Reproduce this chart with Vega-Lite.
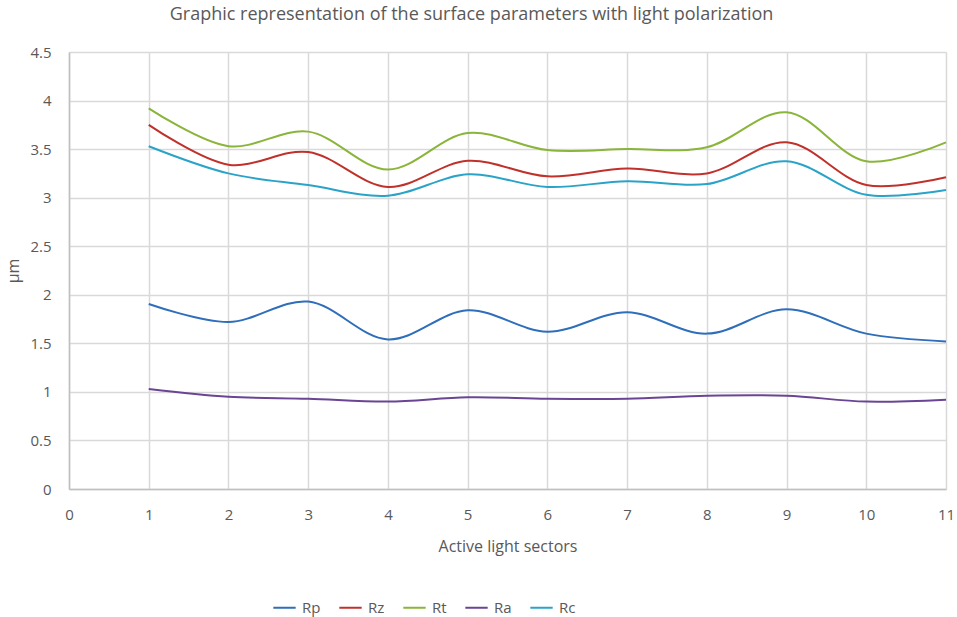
{
  "$schema": "https://vega.github.io/schema/vega-lite/v6.json",
  "description": "Surface parameters with light polarization per active light sector",
  "autosize": {"type": "none"},
  "padding": {"left": 69, "top": 52, "right": 11, "bottom": 128},
  "width": 877,
  "height": 437,
  "background": "white",
  "title": {
    "text": "Graphic representation of the surface parameters with light polarization",
    "anchor": "middle",
    "dx": -36,
    "offset": 21,
    "fontSize": 18,
    "fontWeight": "normal",
    "color": "#595959",
    "font": "Open Sans"
  },
  "config": {
    "view": {"stroke": null},
    "font": "Open Sans",
    "axis": {
      "labelFont": "Open Sans",
      "titleFont": "Open Sans",
      "labelFontSize": 15,
      "titleFontSize": 16,
      "labelColor": "#595959",
      "titleColor": "#595959",
      "titleFontWeight": "normal",
      "gridColor": "#D9D9D9",
      "gridWidth": 1.5,
      "domainColor": "#BFBFBF",
      "domainWidth": 1.5,
      "ticks": false
    }
  },
  "data": {
    "values": [
      {"sector": 1, "param": "Rp", "value": 1.905},
      {"sector": 2, "param": "Rp", "value": 1.72},
      {"sector": 3, "param": "Rp", "value": 1.93},
      {"sector": 4, "param": "Rp", "value": 1.54},
      {"sector": 5, "param": "Rp", "value": 1.84},
      {"sector": 6, "param": "Rp", "value": 1.62},
      {"sector": 7, "param": "Rp", "value": 1.82},
      {"sector": 8, "param": "Rp", "value": 1.6},
      {"sector": 9, "param": "Rp", "value": 1.85},
      {"sector": 10, "param": "Rp", "value": 1.6},
      {"sector": 11, "param": "Rp", "value": 1.52},
      {"sector": 1, "param": "Rz", "value": 3.75},
      {"sector": 2, "param": "Rz", "value": 3.34},
      {"sector": 3, "param": "Rz", "value": 3.47},
      {"sector": 4, "param": "Rz", "value": 3.11},
      {"sector": 5, "param": "Rz", "value": 3.38},
      {"sector": 6, "param": "Rz", "value": 3.22},
      {"sector": 7, "param": "Rz", "value": 3.3},
      {"sector": 8, "param": "Rz", "value": 3.25},
      {"sector": 9, "param": "Rz", "value": 3.57},
      {"sector": 10, "param": "Rz", "value": 3.13},
      {"sector": 11, "param": "Rz", "value": 3.21},
      {"sector": 1, "param": "Rt", "value": 3.92},
      {"sector": 2, "param": "Rt", "value": 3.53},
      {"sector": 3, "param": "Rt", "value": 3.68},
      {"sector": 4, "param": "Rt", "value": 3.29},
      {"sector": 5, "param": "Rt", "value": 3.665},
      {"sector": 6, "param": "Rt", "value": 3.49},
      {"sector": 7, "param": "Rt", "value": 3.5},
      {"sector": 8, "param": "Rt", "value": 3.52},
      {"sector": 9, "param": "Rt", "value": 3.88},
      {"sector": 10, "param": "Rt", "value": 3.375},
      {"sector": 11, "param": "Rt", "value": 3.57},
      {"sector": 1, "param": "Ra", "value": 1.03},
      {"sector": 2, "param": "Ra", "value": 0.95},
      {"sector": 3, "param": "Ra", "value": 0.93},
      {"sector": 4, "param": "Ra", "value": 0.9},
      {"sector": 5, "param": "Ra", "value": 0.945},
      {"sector": 6, "param": "Ra", "value": 0.93},
      {"sector": 7, "param": "Ra", "value": 0.93},
      {"sector": 8, "param": "Ra", "value": 0.96},
      {"sector": 9, "param": "Ra", "value": 0.96},
      {"sector": 10, "param": "Ra", "value": 0.9},
      {"sector": 11, "param": "Ra", "value": 0.92},
      {"sector": 1, "param": "Rc", "value": 3.53},
      {"sector": 2, "param": "Rc", "value": 3.25},
      {"sector": 3, "param": "Rc", "value": 3.13},
      {"sector": 4, "param": "Rc", "value": 3.02},
      {"sector": 5, "param": "Rc", "value": 3.24},
      {"sector": 6, "param": "Rc", "value": 3.11},
      {"sector": 7, "param": "Rc", "value": 3.17},
      {"sector": 8, "param": "Rc", "value": 3.14},
      {"sector": 9, "param": "Rc", "value": 3.375},
      {"sector": 10, "param": "Rc", "value": 3.03},
      {"sector": 11, "param": "Rc", "value": 3.08}
    ]
  },
  "mark": {"type": "line", "interpolate": "catmull-rom", "strokeWidth": 2},
  "encoding": {
    "x": {
      "field": "sector",
      "type": "quantitative",
      "title": "Active light sectors",
      "scale": {"domain": [0, 11], "nice": false},
      "axis": {
        "values": [0, 1, 2, 3, 4, 5, 6, 7, 8, 9, 10, 11],
        "ticks": false,
        "labelPadding": 18,
        "titlePadding": 16,
        "labelFlush": false
      }
    },
    "y": {
      "field": "value",
      "type": "quantitative",
      "title": "µm",
      "scale": {"domain": [0, 4.5], "nice": false},
      "axis": {
        "values": [0, 0.5, 1, 1.5, 2, 2.5, 3, 3.5, 4, 4.5],
        "ticks": false,
        "format": "~g",
        "labelPadding": 18,
        "titlePadding": 8
      }
    },
    "color": {
      "field": "param",
      "type": "nominal",
      "scale": {
        "domain": ["Rp", "Rz", "Rt", "Ra", "Rc"],
        "range": ["#2F6EBA", "#C0312B", "#8AB43A", "#6A4594", "#2AA3C8"]
      },
      "legend": {
        "title": null,
        "orient": "none",
        "direction": "horizontal",
        "legendX": 203,
        "legendY": 543,
        "symbolType": "stroke",
        "symbolStrokeWidth": 2,
        "symbolSize": 500,
        "labelFontSize": 15,
        "labelColor": "#595959",
        "labelFont": "Open Sans",
        "columnPadding": 14,
        "labelOffset": 5
      }
    }
  }
}
